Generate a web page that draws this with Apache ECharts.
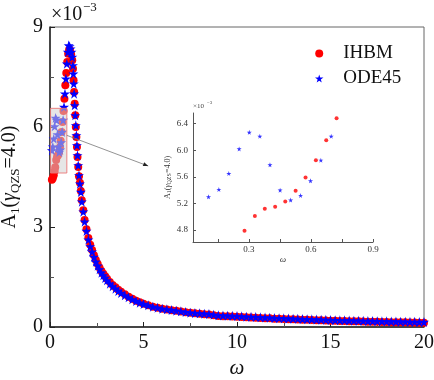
<!DOCTYPE html>
<html><head><meta charset="utf-8">
<script src="https://cdn.jsdelivr.net/npm/echarts@6/dist/echarts.min.js"></script>
<style>html,body{margin:0;padding:0;background:#fff}#c{width:434px;height:380px}</style>
</head><body><div id="c"></div>
<script>
// ---- main plot data (values in units of 1e-3) ----
const xTicks = [0, 5, 10, 15, 20];
const yTicks = [0, 3, 6, 9];

const ihbmW = [0.10,0.15,0.20,0.25,0.28,0.33,0.38,0.43,0.48,0.53,0.57,0.62,0.67,0.72,0.77,0.82,0.87,0.92,0.97,1.02,1.07,1.13,1.19,1.23,1.26,1.29,1.32,1.35,1.38,1.41,1.44,1.47,1.51,1.55,
  1.60,1.65,1.70,1.78,1.85,1.95,2.05,2.15,2.25,2.35,2.45,2.55,2.65,2.75,2.85,2.95,3.05,3.2,3.35,3.5,3.65,3.8,4.0,4.2,4.4,4.6,4.8,5.0,5.25,5.5,5.75,6.0,6.25,6.5,6.75,7.0,7.25,7.5,7.75,8.0,8.25,8.5,8.75,9.0,9.25,9.5,9.75,10,10.25,10.5,10.75,11,11.25,11.5,11.75,12,12.25,12.5,12.75,13,13.25,13.5,13.75,14,14.25,14.5,14.75,15,15.25,15.5,15.75,16,16.25,16.5,16.75,17,17.25,17.5,17.75,18,18.25,18.5,18.75,19,19.25,19.5,19.75,20];
const ihbmV = [4.42,4.46,4.55,4.68,4.79,5.01,5.12,5.15,5.23,5.39,5.59,5.85,6.15,6.48,6.85,7.25,7.62,7.95,8.20,8.32,8.30,8.18,8.00,7.75,7.40,7.05,6.70,6.35,6.00,5.70,5.40,5.10,4.80,4.52,
  4.33,4.08,3.80,3.50,3.21,2.93,2.67,2.47,2.31,2.15,2.01,1.89,1.78,1.68,1.60,1.52,1.45,1.35,1.26,1.19,1.12,1.06,0.98,0.91,0.85,0.79,0.74,0.70,0.65,0.61,0.58,0.55,0.525,0.505,0.485,0.465,0.445,0.425,0.41,0.395,0.385,0.375,0.35,0.33,0.325,0.32,0.315,0.31,0.30,0.29,0.285,0.28,0.27,0.265,0.26,0.25,0.245,0.24,0.235,0.23,0.225,0.22,0.215,0.21,0.205,0.20,0.195,0.19,0.185,0.18,0.18,0.175,0.17,0.17,0.165,0.16,0.16,0.155,0.15,0.15,0.145,0.145,0.14,0.14,0.135,0.135,0.13,0.13];

const odeW = [0.10,0.15,0.20,0.25,0.30,0.35,0.40,0.45,0.50,0.55,0.60,0.65,0.70,0.75,0.80,0.85,0.90,0.95,1.00,1.05,1.10,1.15,1.19,1.23,1.25,1.27,1.29,1.32,1.35,1.38,1.41,1.44,1.47,1.51,1.55,
  1.60,1.65,1.70,1.78,1.85,1.95,2.05,2.15,2.25,2.35,2.45,2.55,2.65,2.75,2.85,2.95,3.05,3.2,3.35,3.5,3.65,3.8,4.0,4.2,4.4,4.6,4.8,5.0,5.25,5.5,5.75,6.0,6.25,6.5,6.75,7.0,7.25,7.5,7.75,8.0,8.25,8.5,8.75,9.0,9.25,9.5,9.75,10,10.25,10.5,10.75,11,11.25,11.5,11.75,12,12.25,12.5,12.75,13,13.25,13.5,13.75,14,14.25,14.5,14.75,15,15.25,15.5,15.75,16,16.25,16.5,16.75,17,17.25,17.5,17.75,18,18.25,18.5,18.75,19,19.25,19.5,19.75,20];
const odeV = [5.30,5.41,5.65,6.02,6.27,6.21,5.78,5.40,5.25,5.32,5.54,5.85,6.21,6.60,7.00,7.45,7.90,8.25,8.45,8.42,8.35,8.25,8.10,7.85,7.60,7.30,7.00,6.65,6.35,6.05,5.75,5.45,5.15,4.85,4.55,
  4.30,4.05,3.76,3.46,3.16,2.88,2.62,2.42,2.26,2.10,1.96,1.84,1.73,1.63,1.55,1.47,1.40,1.30,1.22,1.15,1.08,1.02,0.95,0.89,0.83,0.78,0.73,0.69,0.65,0.61,0.58,0.55,0.53,0.51,0.49,0.47,0.45,0.43,0.42,0.41,0.40,0.39,0.37,0.35,0.345,0.34,0.335,0.33,0.32,0.31,0.305,0.30,0.29,0.285,0.28,0.27,0.265,0.26,0.255,0.25,0.245,0.24,0.235,0.23,0.225,0.22,0.215,0.21,0.205,0.20,0.20,0.195,0.19,0.19,0.185,0.18,0.18,0.175,0.17,0.17,0.165,0.165,0.16,0.16,0.155,0.155,0.15,0.15];

// ---- inset data ----
const insetIhbmW = [0.279,0.329,0.377,0.427,0.476,0.526,0.574,0.624,0.674,0.724];
const insetIhbmV = [4.79,5.01,5.12,5.15,5.23,5.39,5.59,5.85,6.15,6.48];
const insetOdeW = [0.105,0.155,0.203,0.253,0.302,0.353,0.402,0.451,0.502,0.550,0.598,0.648,0.698];
const insetOdeV = [5.30,5.41,5.65,6.02,6.27,6.21,5.78,5.40,5.25,5.32,5.54,5.85,6.21];
const insetXLabels = [0.3, 0.6, 0.9];
const insetXTicks = [0.15, 0.3, 0.45, 0.6, 0.75, 0.9];
const insetYLabels = [4.8, 5.2, 5.6, 6.0, 6.4];
const insetRange = {xMin: 0.03, xMax: 0.9, yMin: 4.62, yMax: 6.56};
const arrowFrom = [0.9, 5.75];
const arrowTo = [5.25, 4.83];

const STAR = 'path://M50,0 L61,35 L98,35 L68,57 L79,91 L50,70 L21,91 L32,57 L2,35 L39,35 Z';
const FONT = 'Liberation Serif';
const zip = (a, b) => a.map((v, i) => [v, b[i]]);

const chart = echarts.init(document.getElementById('c'), null, {renderer: 'canvas'});
const axisCol = '#222';
chart.setOption({
  animation: false,
  backgroundColor: '#fff',
  textStyle: {fontFamily: FONT},
  grid: [
    {left: 50, right: 10, top: 27, bottom: 53, show: true, borderColor: '#666', borderWidth: 1, outerBoundsMode: 'none', containLabel: false},
    {left: 193, width: 180, top: 113, height: 129, show: false, outerBoundsMode: 'none', containLabel: false}
  ],
  legend: {
    orient: 'vertical', left: 310, top: 39, itemWidth: 38, itemHeight: 8, itemGap: 6,
    textStyle: {fontFamily: FONT, fontSize: 19, color: '#111', lineHeight: 18},
    data: [{name: 'IHBM', icon: 'circle'}, {name: 'ODE45', icon: STAR}]
  },
  xAxis: [
    {gridIndex: 0, type: 'value', min: xTicks[0], max: xTicks[xTicks.length-1], interval: 5,
     name: 'ω', nameLocation: 'middle', nameGap: 26,
     nameTextStyle: {fontFamily: FONT, fontSize: 21, fontStyle: 'italic', color: '#111'},
     axisLine: {lineStyle: {color: axisCol, width: 1.5}},
     axisTick: {inside: true, length: 5, lineStyle: {color: axisCol}},
     minorTick: {show: true, splitNumber: 2, length: 4, lineStyle: {color: '#555'}},
     axisLabel: {fontFamily: FONT, fontSize: 20, color: '#111', margin: 6},
     splitLine: {show: false}},
    {gridIndex: 1, type: 'value', min: insetRange.xMin, max: insetRange.xMax,
     name: 'ω', nameLocation: 'middle', nameGap: 12,
     nameTextStyle: {fontFamily: FONT, fontSize: 9, fontStyle: 'italic', color: '#333'},
     axisLine: {onZero: false, lineStyle: {color: '#555', width: 1}},
     axisTick: {inside: true, length: 3, customValues: insetXTicks, lineStyle: {color: '#555'}},
     axisLabel: {fontFamily: FONT, fontSize: 9, color: '#333', margin: 3, customValues: insetXLabels},
     splitLine: {show: false}}
  ],
  yAxis: [
    {gridIndex: 0, type: 'value', min: yTicks[0], max: yTicks[yTicks.length-1], interval: 3,
     name: '{a|A}{s|1}{a|(}{g|γ}{s|QZS}{a|=4.0)}', nameLocation: 'middle', nameGap: 20,
     nameTextStyle: {rich: {
       a: {fontFamily: FONT, fontSize: 20, color: '#111', lineHeight: 24, verticalAlign: 'middle'},
       g: {fontFamily: FONT, fontSize: 20, fontStyle: 'italic', color: '#111', lineHeight: 24, verticalAlign: 'middle'},
       s: {fontFamily: FONT, fontSize: 13, color: '#111', lineHeight: 24, verticalAlign: 'bottom'}
     }},
     axisLine: {lineStyle: {color: axisCol, width: 1.5}},
     axisTick: {inside: true, length: 5, lineStyle: {color: axisCol}},
     minorTick: {show: true, splitNumber: 2, length: 4, lineStyle: {color: '#555'}},
     axisLabel: {fontFamily: FONT, fontSize: 20, color: '#111', margin: 7},
     splitLine: {show: false}},
    {gridIndex: 1, type: 'value', min: insetRange.yMin, max: insetRange.yMax,
     name: '{a|A}{s|1}{a|(}{g|γ}{s|QZS}{a|=4.0)}', nameLocation: 'middle', nameGap: 13,
     nameTextStyle: {rich: {
       a: {fontFamily: FONT, fontSize: 8, color: '#333', lineHeight: 10, verticalAlign: 'middle'},
       g: {fontFamily: FONT, fontSize: 8, fontStyle: 'italic', color: '#333', lineHeight: 10, verticalAlign: 'middle'},
       s: {fontFamily: FONT, fontSize: 6, color: '#333', lineHeight: 10, verticalAlign: 'bottom'}
     }},
     axisLine: {onZero: false, lineStyle: {color: '#555', width: 1}},
     axisTick: {inside: true, length: 3, customValues: insetYLabels, lineStyle: {color: '#555'}},
     axisLabel: {fontFamily: FONT, fontSize: 9, color: '#333', margin: 5, customValues: insetYLabels,
                 formatter: v => v.toFixed(1)},
     splitLine: {show: false}}
  ],
  graphic: [
    {type: 'text', left: 51, top: 5, style: {text: '×10', fontFamily: FONT, fontSize: 20, fill: '#111'}},
    {type: 'text', left: 83, top: 1, style: {text: '−3', fontFamily: FONT, fontSize: 13, fill: '#111'}},
    {type: 'text', left: 193, top: 103, style: {text: '×10', fontFamily: FONT, fontSize: 7, fill: '#444'}},
    {type: 'text', left: 207, top: 100, style: {text: '−3', fontFamily: FONT, fontSize: 5, fill: '#444'}}
  ],
  series: [
    {name: 'IHBM', type: 'scatter', xAxisIndex: 0, yAxisIndex: 0, symbol: 'circle', symbolSize: 8,
     itemStyle: {color: '#ff0000', opacity: 1}, data: zip(ihbmW, ihbmV), z: 2},
    {name: 'ODE45', type: 'scatter', xAxisIndex: 0, yAxisIndex: 0, symbol: STAR, symbolSize: 10,
     itemStyle: {color: '#0000ff', opacity: 1}, data: zip(odeW, odeV), z: 3},
    {name: 'IHBM', type: 'scatter', xAxisIndex: 1, yAxisIndex: 1, symbol: 'circle', symbolSize: 4,
     itemStyle: {color: '#ff0000'}, data: zip(insetIhbmW, insetIhbmV), z: 3},
    {name: 'ODE45', type: 'scatter', xAxisIndex: 1, yAxisIndex: 1, symbol: STAR, symbolSize: 5,
     itemStyle: {color: '#0000ff'}, data: zip(insetOdeW, insetOdeV), z: 3},
    {type: 'custom', xAxisIndex: 0, yAxisIndex: 0, z: 10, clip: false, silent: true,
     data: [[insetRange.xMin, insetRange.yMin]],
     renderItem: function (params, api) {
       const p1 = api.coord([insetRange.xMin, insetRange.yMax]);
       const p2 = api.coord([insetRange.xMax, insetRange.yMin]);
       const a = api.coord(arrowFrom), b = api.coord(arrowTo);
       const ang = Math.atan2(b[1] - a[1], b[0] - a[0]);
       const L = 5, W = 2;
       const c = Math.cos(ang), s = Math.sin(ang);
       const tri = [[b[0], b[1]], [b[0] - L*c + W*s, b[1] - L*s - W*c], [b[0] - L*c - W*s, b[1] - L*s + W*c]];
       return {type: 'group', children: [
         {type: 'rect', shape: {x: p1[0], y: p1[1], width: p2[0] - p1[0], height: p2[1] - p1[1]},
          style: {fill: 'rgba(210,210,210,0.55)', stroke: 'rgba(235,120,120,0.9)', lineWidth: 1}},
         {type: 'line', shape: {x1: a[0], y1: a[1], x2: b[0], y2: b[1]}, style: {stroke: '#777', lineWidth: 0.8}},
         {type: 'polygon', shape: {points: tri}, style: {fill: '#222'}}
       ]};
     }}
  ]
});
</script></body></html>
